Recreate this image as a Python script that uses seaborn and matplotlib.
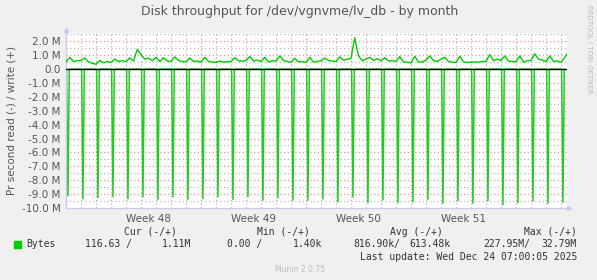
import numpy as np
import pandas as pd
import matplotlib
matplotlib.use("Agg")
import matplotlib.pyplot as plt
import seaborn as sns

# ---------------- data ----------------
# write (+), in MB/s, 4 samples per day starting 2 days before week 48 (Nov 24)
write_M = [
    0.50, 0.85, 0.55, 0.60,
    0.62, 0.80, 0.52, 0.42,
    0.35, 0.62, 0.45, 0.55,
    0.48, 0.72, 0.55, 0.60,
    0.55, 0.80, 0.58, 1.42,
    1.05, 0.72, 0.80, 0.60,
    0.85, 0.55, 0.82, 0.58,
    0.55, 0.88, 0.62, 0.55,
    0.52, 0.80, 0.55, 0.58,
    0.50, 0.85, 0.55, 0.52,
    0.48, 0.58, 0.50, 0.52,
    0.55, 0.82, 0.60, 0.58,
    0.62, 0.90, 0.58, 0.65,
    0.55, 0.85, 0.52, 0.60,
    0.58, 0.95, 0.62, 0.55,
    0.50, 0.78, 0.52, 0.55,
    0.48, 0.85, 0.50, 0.55,
    0.60, 0.80, 0.62, 0.58,
    0.55, 0.88, 0.65, 0.70,
    0.78, 2.25, 0.95, 0.60,
    0.72, 0.85, 0.62, 0.75,
    0.60, 0.82, 0.58, 0.62,
    0.55, 0.90, 0.52, 0.50,
    0.45, 0.92, 0.50, 0.52,
    0.65, 0.95, 0.62, 0.55,
    0.72, 0.85, 0.55, 0.50,
    0.48, 0.92, 0.52, 0.48,
    0.50, 0.52, 0.50, 0.55,
    0.55, 1.05, 0.60, 0.72,
    0.62, 0.95, 0.58, 0.55,
    0.52, 0.95, 0.50, 0.60,
    0.62, 1.10, 0.72, 0.65,
    0.55, 0.95, 0.55, 0.58,
    0.50, 0.85, 1.25,
]
write_start_day = -2.0
write_step_day = 0.25

# read (-) daily spikes: day offset (relative to Mon Nov 24 00:00) and depth in MB/s
read_first_day = -1.87
read_depth_M = [
    9.12, 9.33, 9.26, 9.19, 9.33, 9.19, 9.38, 9.19, 9.38, 9.33, 9.19, 9.38,
    9.19, 9.43, 9.26, 9.43, 9.43, 9.35, 9.56, 9.21, 9.62, 9.41, 9.62, 9.56,
    9.38, 9.66, 9.48, 9.66, 9.48, 9.76, 9.62, 9.48, 9.66, 9.59,
]

week_labels = ["Week 48", "Week 49", "Week 50", "Week 51"]
yticks_M = [2, 1, 0, -1, -2, -3, -4, -5, -6, -7, -8, -9, -10]

legend_header = ["Cur (-/+)", "Min (-/+)", "Avg (-/+)", "Max (-/+)"]
legend_values = ["116.63 /", "1.11M", "0.00 /", "1.40k",
                 "816.90k/", "613.48k", "227.95M/", "32.79M"]
last_update = "Last update: Wed Dec 24 07:00:05 2025"

# ---------------- frames ----------------
wdf = pd.DataFrame({
    "day": write_start_day + write_step_day * np.arange(len(write_M)),
    "val": np.array(write_M) * 1e6,
})

half = 0.09
rows = []
for k, d in enumerate(read_depth_M):
    t = read_first_day + k
    rows += [(t - half, 0.0), (t, -d * 1e6), (t + half, 0.0)]
rdf = pd.DataFrame(rows, columns=["day", "val"])

# ---------------- figure ----------------
sns.set_style("white")
plt.rcParams["font.family"] = ["DejaVu Sans"]
W, H = 597, 280
fig = plt.figure(figsize=(W / 100, H / 100), dpi=100, facecolor="#f0f0f0")
L, R, T, B = 66, 567, 33, 208
ax = fig.add_axes([L / W, 1 - B / H, (R - L) / W, (B - T) / H])
ax.set_facecolor("white")

xmin, xmax = -2.0, 31.4
ymin, ymax = -10e6, 2.6e6
ax.set_xlim(xmin, xmax)
ax.set_ylim(ymin, ymax)

# grid
grey = "#b8b8b8"
red = "#ec9090"
dots = (0, (1, 2))
for d in range(-1, 32):
    if d % 7 != 0:
        ax.axvline(d, color=grey, lw=0.9, ls=dots, zorder=0)
for d in range(0, 32, 7):
    ax.axvline(d, color=red, lw=0.9, ls=dots, zorder=0.5)
for v in np.arange(-9.5, 2.6, 1.0):
    ax.axhline(v * 1e6, color=grey, lw=0.9, ls=dots, zorder=0)
for v in yticks_M:
    if v not in (0, -10):
        ax.axhline(v * 1e6, color=red, lw=0.9, ls=dots, zorder=0.5)

sns.lineplot(data=rdf, x="day", y="val", ax=ax, color="#22cc22", lw=1.1,
             sort=False, estimator=None, zorder=2)
sns.lineplot(data=wdf, x="day", y="val", ax=ax, color="#00cc00", lw=1.0,
             estimator=None, zorder=3)
ax.axhline(0, color="black", lw=1.0, zorder=4)

ax.set_xlabel("")
ax.set_ylabel("Pr second read (-) / write (+)", fontsize=7.5, color="#555555",
              labelpad=4)

ax.set_yticks([v * 1e6 for v in yticks_M])
ax.set_yticklabels(["0.0" if v == 0 else f"{v:.1f} M" for v in yticks_M])
ax.set_xticks([3.5, 10.5, 17.5, 24.5])
ax.set_xticklabels(week_labels)
ax.tick_params(axis="both", length=0, labelsize=7.5, labelcolor="#555555")
ax.tick_params(axis="y", pad=4)
ax.tick_params(axis="x", pad=4)

for s in ["top", "right"]:
    ax.spines[s].set_visible(False)
for s in ["left", "bottom"]:
    ax.spines[s].set_color("#c8c8f0")
    ax.spines[s].set_linewidth(0.9)
ax.plot([xmin], [ymax + 0.2e6], marker="^", color="#c8c8f0", markersize=3,
        clip_on=False, zorder=5)
ax.plot([xmax + 0.12], [ymin], marker=">", color="#c8c8f0", markersize=3,
        clip_on=False, zorder=5)

# title & side texts
fig.text(300 / W, 1 - 12 / H, "Disk throughput for /dev/vgnvme/lv_db - by month",
         ha="center", va="center", fontsize=9, color="#555555")
fig.text(589 / W, 1 - 5 / H, "RRDTOOL / TOBI OETIKER", rotation=270,
         ha="center", va="top", fontsize=5, color="#bbbbbb")

# legend
mono = "DejaVu Sans Mono"
fs = 7
def tx(x, y, s, ha="right", color="#333333"):
    fig.text(x / W, 1 - y / H, s, ha=ha, va="center", fontsize=fs,
             family=mono, color=color)

for x, s in zip([177, 310, 443, 577], legend_header):
    tx(x, 232, s)
fig.patches.append(plt.Rectangle((14 / W, 1 - 248 / H), 7 / W, 7 / H,
                                 transform=fig.transFigure, color="#00cc00"))
tx(26, 244, "Bytes", ha="left")
for x, s in zip([132, 191, 262, 322, 400, 451, 530, 577], legend_values):
    tx(x, 244, s)
tx(577, 257, last_update)
fig.text(300 / W, 1 - 270 / H, "Munin 2.0.75", ha="center", va="center",
         fontsize=5.5, color="#bbbbbb")

fig.savefig("out.png", dpi=100, facecolor=fig.get_facecolor())
